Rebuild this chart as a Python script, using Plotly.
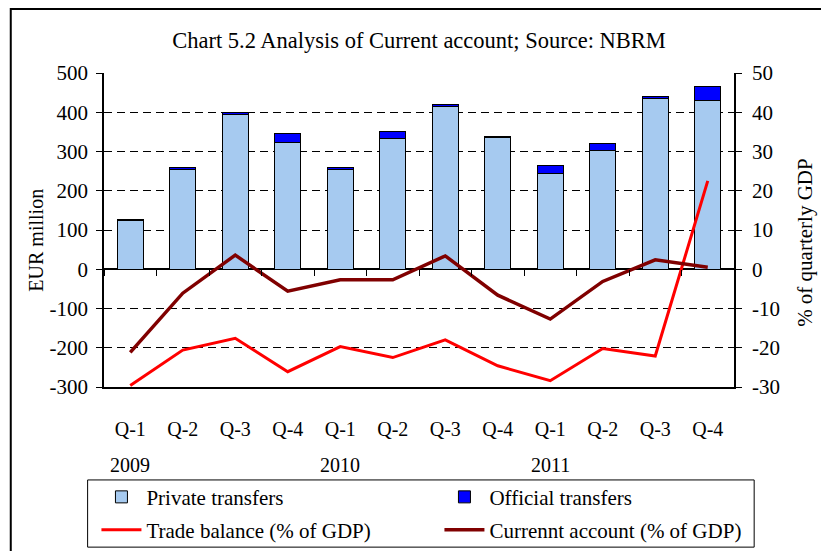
import plotly.graph_objects as go

quarters = ["Q-1", "Q-2", "Q-3", "Q-4"] * 3
years = ["2009"] * 4 + ["2010"] * 4 + ["2011"] * 4
year_labels = ["2009", "2010", "2011"]
private_transfers = [124, 255, 395, 324, 255, 334, 414, 335, 244, 303, 435, 429]
official_transfers = [4, 5, 5, 22, 5, 16, 6, 4, 20, 17, 5, 36]
trade_balance = [-29.6, -20.6, -17.6, -26.1, -19.7, -22.5, -18.0, -24.6, -28.4, -20.2, -22.1, 22.5]
current_account = [-21.2, -6.1, 3.6, -5.6, -2.7, -2.7, 3.4, -6.6, -12.7, -3.1, 2.4, 0.5]
left_ticks = [-300, -200, -100, 0, 100, 200, 300, 400, 500]
left_ticktext = ["-300", "-200", "-100", "0", "100", "200", "300", "400", "500"]
right_ticks = [-30, -20, -10, 0, 10, 20, 30, 40, 50]
right_ticktext = ["-30", "-20", "-10", "0", "10", "20", "30", "40", "50"]
left_title = "EUR million"
right_title = "% of quarterly GDP"
chart_title = "Chart 5.2 Analysis of Current account; Source: NBRM"

cats = [f"{y} {q}" for y, q in zip(years, quarters)]
FONT = "Liberation Serif"
FS = 20

fig = go.Figure()
fig.add_trace(go.Bar(x=cats, y=private_transfers, name="Private transfers",
                     marker=dict(color="#A6CAF0", line=dict(color="black", width=1)),
                     width=0.5, legend="legend"))
fig.add_trace(go.Bar(x=cats, y=official_transfers, name="Official transfers",
                     marker=dict(color="#0000FF", line=dict(color="black", width=1)),
                     width=0.5, legend="legend"))
fig.add_trace(go.Scatter(x=cats, y=trade_balance, name="Trade balance (% of GDP)",
                         mode="lines", line=dict(color="#FF0000", width=3), yaxis="y2",
                         legend="legend2"))
fig.add_trace(go.Scatter(x=cats, y=current_account, name="Currennt account (% of GDP)",
                         mode="lines", line=dict(color="#800000", width=3.5), yaxis="y2",
                         legend="legend2"))
# invisible helper trace so the category-boundary tick axis at zero is rendered
fig.add_trace(go.Scatter(x=list(range(len(cats))), y=[0] * len(cats), xaxis="x2",
                         mode="none", showlegend=False, hoverinfo="skip"))

# year labels under the first quarter of each year
for yl in year_labels:
    fig.add_annotation(x=f"{yl} Q-1", y=-0.248, xref="x", yref="paper", text=yl,
                       yanchor="middle", xanchor="center",
                       showarrow=False, font=dict(family=FONT, size=FS, color="black"))

# axis titles
fig.add_annotation(x=-0.1086, y=0.468, xref="paper", yref="paper", text=left_title,
                   textangle=-90, showarrow=False, xanchor="center", yanchor="middle",
                   font=dict(family=FONT, size=FS, color="black"))
fig.add_annotation(x=1.1126, y=0.462, xref="paper", yref="paper", text=right_title,
                   textangle=-90, showarrow=False, xanchor="center", yanchor="middle",
                   font=dict(family=FONT, size=21, color="black"))

legend_common = dict(orientation="h", xanchor="left", yanchor="middle",
                     borderwidth=0, bgcolor="rgba(0,0,0,0)",
                     entrywidth=288, traceorder="normal", itemwidth=40,
                     font=dict(family=FONT, size=21, color="black"))

fig.update_layout(
    width=821, height=551,
    margin=dict(l=103.5, r=87, t=73, b=164, autoexpand=False),
    paper_bgcolor="white", plot_bgcolor="white",
    barmode="stack",
    title=dict(text=chart_title,
               x=0.5, xref="paper", xanchor="center", y=0.927, yanchor="middle",
               font=dict(family=FONT, size=22.5, color="black")),
    font=dict(family=FONT, size=FS, color="black"),
    xaxis=dict(type="category", categoryorder="array", categoryarray=cats,
               tickmode="array", tickvals=cats, ticktext=quarters,
               range=[-0.5, 11.5], showgrid=False, zeroline=False,
               showline=True, linecolor="black", linewidth=1.5,
               ticks="", ticklabelstandoff=23,
               tickfont=dict(family=FONT, size=FS, color="black")),
    xaxis2=dict(overlaying="x", anchor="free", position=0.375, range=[-0.5, 11.5],
                tickmode="linear", tick0=0.5, dtick=1, ticks="outside", ticklen=6,
                tickcolor="black", tickwidth=1, showticklabels=False,
                showgrid=False, zeroline=False, showline=False),
    yaxis=dict(range=[-300, 500], tickmode="array", tickvals=left_ticks,
               ticktext=left_ticktext,
               showgrid=True, gridcolor="black", gridwidth=1, griddash="8px,5px",
               zeroline=True, zerolinecolor="black", zerolinewidth=1.5,
               showline=True, linecolor="black", linewidth=1.5,
               ticks="outside", ticklen=6, tickcolor="black", ticklabelstandoff=4,
               tickfont=dict(family=FONT, size=21, color="black")),
    yaxis2=dict(range=[-30, 50], tickmode="array", tickvals=right_ticks,
                ticktext=right_ticktext, overlaying="y", side="right",
                showgrid=False, zeroline=False,
                showline=True, linecolor="black", linewidth=1.5,
                ticks="outside", ticklen=6, tickcolor="black", ticklabelstandoff=6,
                tickfont=dict(family=FONT, size=21, color="black")),
    legend=dict(x=-0.012, y=-0.351, **legend_common),
    legend2=dict(x=-0.012, y=-0.456, **legend_common),
    shapes=[
        dict(type="rect", xref="paper", yref="paper", x0=-0.148, x1=1.2,
             y0=-0.6, y1=1.204, line=dict(color="black", width=2),
             fillcolor="rgba(0,0,0,0)", layer="below"),
        dict(type="rect", xref="paper", yref="paper", x0=-0.026, x1=1.032,
             y0=-0.51, y1=-0.296, line=dict(color="black", width=1),
             fillcolor="rgba(0,0,0,0)", layer="below"),
    ],
)

fig.write_html("out.html", config={"displayModeBar": False},
               post_script="document.body.style.margin='0';")
